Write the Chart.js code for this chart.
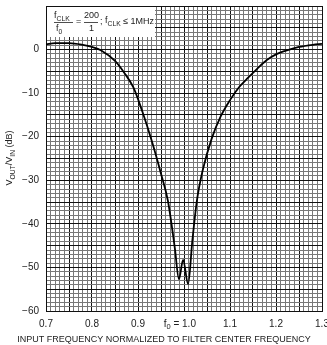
<!DOCTYPE html>
<html>
<head>
<meta charset="utf-8">
<script src="https://cdn.jsdelivr.net/npm/chart.js@4"></script>
<style>
  html, body { margin: 0; padding: 0; background: #fff; }
  #wrap { width: 327px; height: 345px; }
</style>
</head>
<body>
<div id="wrap"><canvas id="filterChart" width="327" height="345"></canvas></div>
<script>
// normalized input frequency (f / f0)
const freqs = [0.70, 0.72, 0.75, 0.78, 0.80, 0.82, 0.85, 0.87, 0.89, 0.91, 0.93, 0.95, 0.965, 0.98, 0.989, 0.998, 1.009, 1.018, 1.028, 1.04, 1.06, 1.08, 1.10, 1.12, 1.14, 1.16, 1.18, 1.20, 1.22, 1.25, 1.28, 1.30];
// gain VOUT/VIN in dB
const gainDb = [1.2, 1.5, 1.5, 1.1, 0.6, -0.2, -2.6, -5.3, -8.7, -14.4, -21, -28.5, -34.7, -45.5, -52.7, -48.3, -53.8, -44, -34.7, -28, -20.5, -15.3, -11.6, -8.6, -6.4, -4.3, -2.4, -1.1, -0.3, 0.6, 1.1, 1.3];
const xTicks = [0.7, 0.8, 0.9, 1.0, 1.1, 1.2, 1.3];
const xTickLabels = ["0.7", "0.8", "0.9", "f0 = 1.0", "1.1", "1.2", "1.3"];
const yTicks = [0, -10, -20, -30, -40, -50, -60];

const FONT = '"Liberation Sans Narrow", "Liberation Sans", Arial, sans-serif';

// text with an optional subscript part
function subText(ctx, x, y, main, sub, size, align) {
  ctx.font = size + "px " + FONT;
  const w1 = ctx.measureText(main).width;
  ctx.font = (size * 0.75) + "px " + FONT;
  const w2 = sub ? ctx.measureText(sub).width : 0;
  let x0 = x;
  if (align === "center") x0 = x - (w1 + w2) / 2;
  if (align === "right") x0 = x - (w1 + w2);
  ctx.textAlign = "left";
  ctx.font = size + "px " + FONT;
  ctx.fillText(main, x0, y);
  if (sub) {
    ctx.font = (size * 0.75) + "px " + FONT;
    ctx.fillText(sub, x0 + w1, y + size * 0.3);
  }
  return w1 + w2;
}

const textPlugin = {
  id: "textPlugin",
  afterDraw(chart) {
    const ctx = chart.ctx;
    const xs = chart.scales.x, ys = chart.scales.y;
    const area = chart.chartArea;
    ctx.save();
    ctx.fillStyle = "#222";
    ctx.textBaseline = "middle";

    // y tick labels
    ctx.font = "10px " + FONT;
    ctx.textAlign = "right";
    yTicks.forEach(v => {
      const lbl = v === 0 ? "0" : "\u2212" + Math.abs(v);
      ctx.fillText(lbl, 39, ys.getPixelForValue(v));
    });

    // x tick labels
    xTicks.forEach((v, i) => {
      const px = xs.getPixelForValue(v);
      const lbl = xTickLabels[i];
      if (lbl.startsWith("f0")) {
        ctx.font = "10px " + FONT;
        const wNum = ctx.measureText("1.0").width;
        const wEq = ctx.measureText(" = ").width;
        const fw = ctx.measureText("f").width;
        ctx.font = "7.5px " + FONT;
        const sw = ctx.measureText("0").width;
        const start = px + 5 + wNum / 2 - (fw + sw + wEq + wNum);
        subText(ctx, start, area.bottom + 13, "f", "0", 10, "left");
        ctx.font = "10px " + FONT;
        ctx.textAlign = "left";
        ctx.fillText(" = 1.0", start + fw + sw, area.bottom + 13);
      } else {
        ctx.font = "10px " + FONT;
        ctx.textAlign = "center";
        ctx.fillText(lbl, px, area.bottom + 13);
      }
    });

    // x axis title
    ctx.font = "9px " + FONT;
    ctx.textAlign = "center";
    ctx.fillText("INPUT FREQUENCY NORMALIZED TO FILTER CENTER FREQUENCY", 164, 340);

    // y axis title (rotated)
    ctx.save();
    ctx.translate(10, 158);
    ctx.rotate(-Math.PI / 2);
    const parts = [["V", "OUT"], ["/V", "IN"], [" (dB)", ""]];
    let tw = 0;
    parts.forEach(p => {
      ctx.font = "9px " + FONT; tw += ctx.measureText(p[0]).width;
      ctx.font = "6.75px " + FONT; tw += p[1] ? ctx.measureText(p[1]).width : 0;
    });
    let cx = -tw / 2;
    parts.forEach(p => { cx += subText(ctx, cx, 0, p[0], p[1], 9, "left"); });
    ctx.restore();

    // annotation box
    ctx.fillStyle = "#fff";
    ctx.fillRect(area.left + 1, area.top + 1, 108, 30);
    ctx.fillStyle = "#222";
    const bx = area.left + 8, barY = area.top + 16;
    subText(ctx, bx, barY - 6, "f", "CLK", 9, "left");
    ctx.fillRect(bx, barY, 19, 0.8);
    subText(ctx, bx + 2, barY + 7, "f", "0", 9, "left");
    ctx.font = "9px " + FONT;
    ctx.textAlign = "left";
    ctx.fillText("=", bx + 22, barY);
    ctx.fillText("200", bx + 30, barY - 6);
    ctx.fillRect(bx + 30, barY, 14, 0.8);
    ctx.fillText("1", bx + 35, barY + 7);
    let ax = bx + 46;
    ctx.fillText(";", ax, barY); ax += 5;
    ax += subText(ctx, ax, barY - 1, "f", "CLK", 9, "left");
    ctx.font = "9px " + FONT;
    ctx.fillText(" \u2264 1MHz", ax, barY);
    ctx.restore();
  }
};

function gridColor(ctx) {
  const v = Math.round(ctx.tick.value * 100);
  return v % 5 === 0 ? "#111" : "#777";
}
function gridColorY(ctx) {
  const v = Math.round(ctx.tick.value);
  return v % 5 === 0 ? "#111" : "#777";
}

new Chart(document.getElementById("filterChart").getContext("2d"), {
  type: "line",
  data: {
    datasets: [{
      data: freqs.map((f, i) => ({ x: f, y: gainDb[i] })),
      borderColor: "#000",
      borderWidth: 1.8,
      pointRadius: 0,
      cubicInterpolationMode: "monotone",
      fill: false,
    }],
  },
  options: {
    responsive: false,
    animation: false,
    layout: { padding: { top: 6, right: 5, left: 0, bottom: 0 } },
    plugins: { legend: { display: false }, tooltip: { enabled: false } },
    scales: {
      x: {
        type: "linear",
        min: 0.7,
        max: 1.3,
        ticks: { display: false, stepSize: 0.01, maxTicksLimit: 100, autoSkip: false },
        grid: { color: gridColor, lineWidth: 1, drawTicks: false },
        border: { color: "#111", width: 1 },
        afterFit(scale) { scale.height = 34; },
      },
      y: {
        min: -60,
        max: 10,
        ticks: { display: false, stepSize: 1, maxTicksLimit: 100, autoSkip: false },
        grid: { color: gridColorY, lineWidth: 1, drawTicks: false },
        border: { color: "#111", width: 1 },
        afterFit(scale) { scale.width = 46; },
      },
    },
  },
  plugins: [textPlugin],
});
</script>
</body>
</html>
